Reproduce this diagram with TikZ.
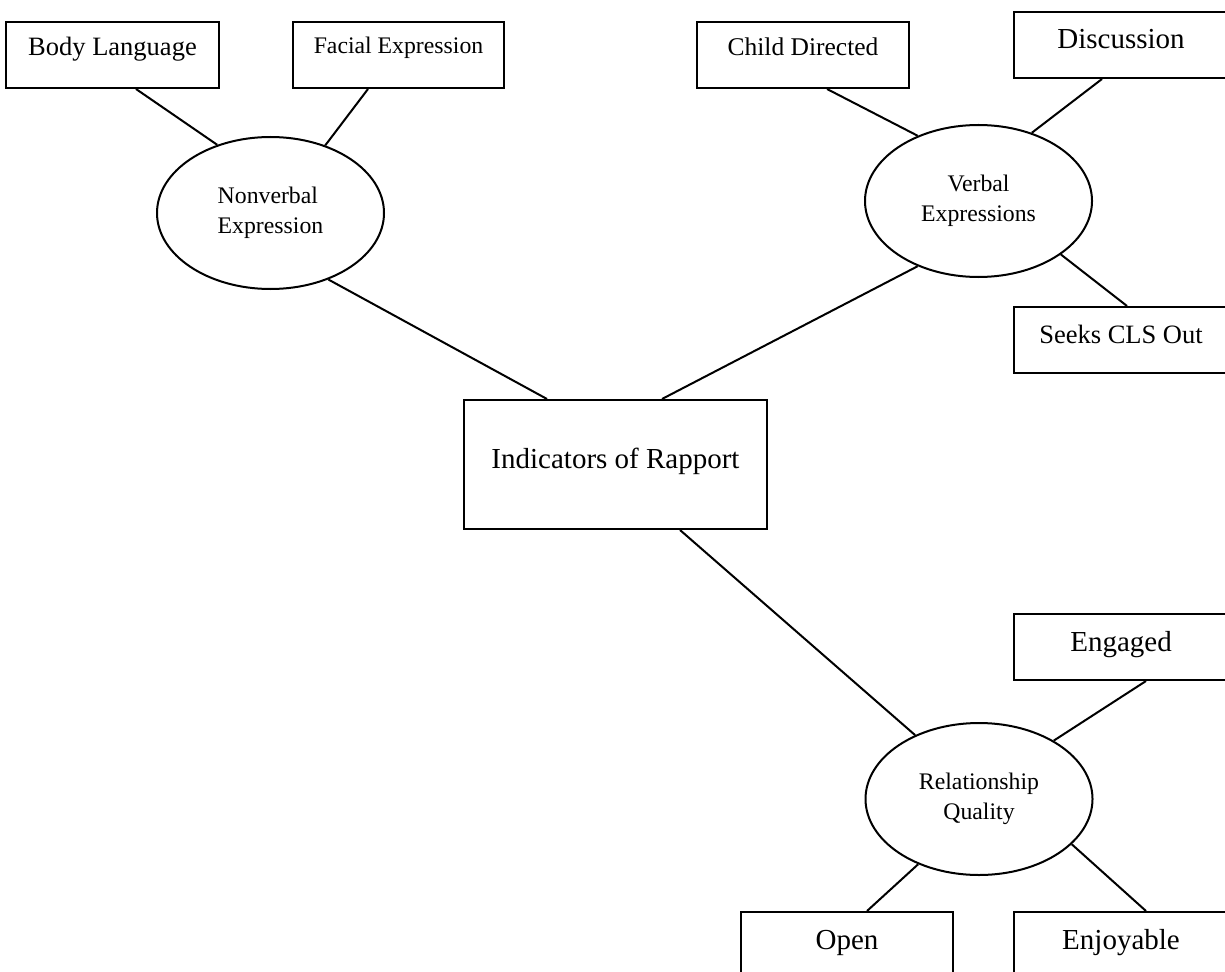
\documentclass[tikz,border=0pt]{standalone}
\usepackage{fontspec}
\setmainfont{Liberation Serif}
\usetikzlibrary{shapes.geometric,calc}

\begin{document}
\begin{tikzpicture}[x=0.4pt, y=-0.4pt, line width=0.8pt,
    box/.style={draw, anchor=north west, inner sep=0pt, minimum width=85.6pt,
      text height=14.8pt, text depth=11.6pt, font=\fontsize{11.6}{14}\selectfont},
    oval/.style={draw, ellipse, inner sep=0pt, minimum width=90.8pt, minimum height=60.8pt,
      align=center, font=\fontsize{9.5}{12.2}\selectfont}]
  \useasboundingbox (0,0) rectangle (1225,972);
  \clip (0,0) rectangle (1225,972);
  % centre
  \node[box, minimum width=121.2pt, text height=27.2pt, text depth=24.4pt] (rapport) at (463,399) {Indicators of Rapport};
  % the three ovals
  \node[oval, align=left] (nonverbal) at (270.5,213) {Nonverbal\\Expression};
  \node[oval] (verbal) at (978.5,201) {Verbal\\Expressions};
  \node[oval] (quality) at (979,799) {Relationship\\Quality};
  % nonverbal side
  \node[box, minimum width=85.2pt, text height=13.6pt, text depth=12.8pt, font=\fontsize{10.6}{12}\selectfont] (body) at (5,21) {Body Language};
  \node[box, minimum width=84.4pt, text height=12.8pt, text depth=13.6pt, font=\fontsize{9.5}{11}\selectfont] (facial) at (292,21) {Facial Expression};
  % verbal side
  \node[box, minimum width=84.8pt, text height=13.6pt, text depth=12.8pt, font=\fontsize{10.2}{12}\selectfont] (child) at (696,21) {Child Directed};
  \node[box] (discussion) at (1013,11) {Discussion};
  \node[box, text height=14.4pt, text depth=12pt, font=\fontsize{10.6}{12}\selectfont] (seeks) at (1013,306) {Seeks CLS Out};
  % quality side
  \node[box] (engaged) at (1013,613) {Engaged};
  \node[box, minimum width=84.8pt] (open) at (740,911) {Open};
  \node[box] (enjoy) at (1013,911) {Enjoyable};

  \draw ($(body.south west)+(131,0)$) -- (nonverbal.128);
  \draw ($(facial.south west)+(76,0)$) -- (nonverbal.51);
  \draw (nonverbal.-49) -- ($(rapport.north west)+(84,0)$);
  \draw ($(child.south west)+(131,0)$) -- (verbal.133);
  \draw ($(discussion.south west)+(89,0)$) -- (verbal.52);
  \draw (verbal.-33) -- ($(seeks.north west)+(114,0)$);
  \draw (verbal.227) -- ($(rapport.north west)+(199,0)$);
  \draw ($(rapport.south west)+(217,0)$) -- (quality.135);
  \draw ($(engaged.south west)+(133,0)$) -- (quality.38);
  \draw (quality.227) -- ($(open.north west)+(127,0)$);
  \draw (quality.-26) -- ($(enjoy.north west)+(133,0)$);
\end{tikzpicture}
\end{document}
